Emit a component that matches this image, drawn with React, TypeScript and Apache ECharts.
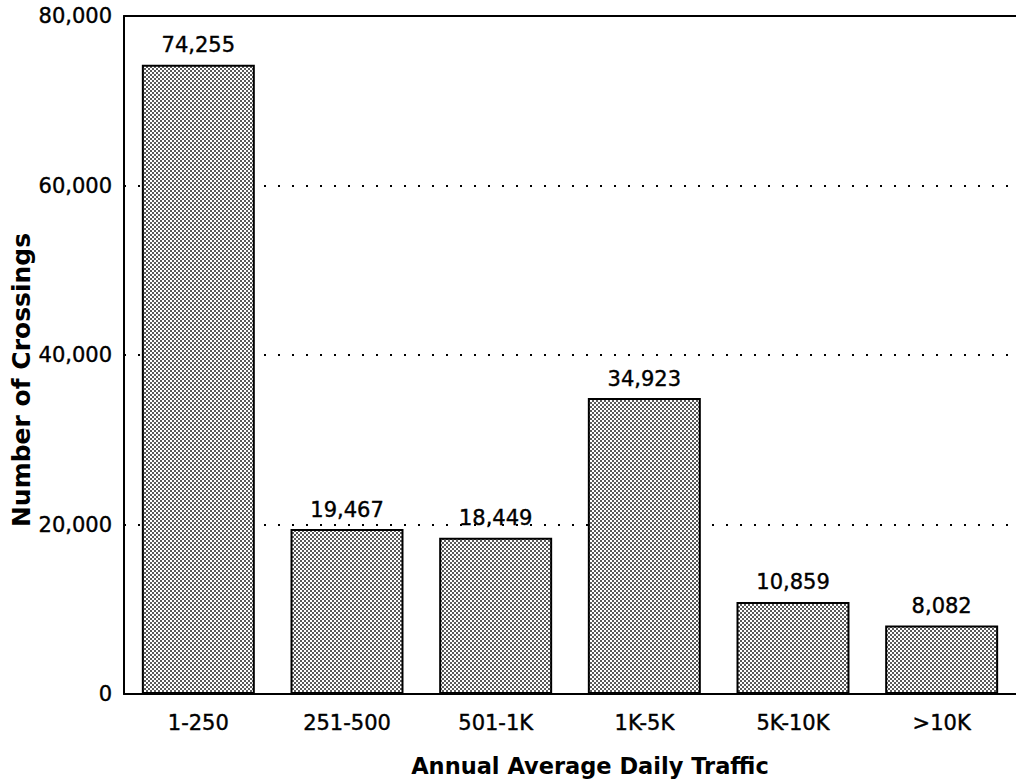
import React, { useEffect, useRef } from "react";
import * as echarts from "echarts";

const categories = ["1-250", "251-500", "501-1K", "1K-5K", "5K-10K", ">10K"];
const crossings = [74255, 19467, 18449, 34923, 10859, 8082];
const yTicks = [0, 20000, 40000, 60000, 80000];
const xAxisTitle = "Annual Average Daily Traffic";
const yAxisTitle = "Number of Crossings";

function makePattern(): string {
  const c = document.createElement("canvas");
  c.width = 4;
  c.height = 4;
  const ctx = c.getContext("2d")!;
  ctx.fillStyle = "#ffffff";
  ctx.fillRect(0, 0, 4, 4);
  ctx.fillStyle = "#5a5a5a";
  for (let x = 0; x < 4; x++) {
    for (let y = 0; y < 4; y++) {
      if (((x >> 1) + (y >> 1)) % 2 === 0) ctx.fillRect(x, y, 1, 1);
    }
  }
  return c.toDataURL();
}

export default function App() {
  const ref = useRef<HTMLDivElement>(null);
  useEffect(() => {
    if (!ref.current) return;
    const chart = echarts.init(ref.current, undefined, { renderer: "svg" });
    const font = "'DejaVu Sans', Verdana, sans-serif";
    const pattern = makePattern();
    const labelText = {
      color: "#000",
      fontSize: 21,
      fontFamily: font,
      textBorderColor: "#000",
      textBorderWidth: 0.4,
    };
    chart.setOption({
      animation: false,
      backgroundColor: "#ffffff",
      textStyle: { fontFamily: font, color: "#000" },
      grid: {
        left: 124,
        right: -4,
        top: 16,
        bottom: 89,
        containLabel: false,
      },
      xAxis: [
        {
          type: "category",
          data: categories,
          axisLine: { lineStyle: { color: "#000", width: 2 } },
          axisTick: { show: false },
          axisLabel: { ...labelText, margin: 18 },
        },
        {
          type: "category",
          position: "top",
          data: categories,
          axisLine: { show: true, lineStyle: { color: "#000", width: 2 } },
          axisTick: { show: false },
          axisLabel: { show: false },
        },
      ],
      yAxis: {
        type: "value",
        min: yTicks[0],
        max: yTicks[yTicks.length - 1],
        interval: 20000,
        axisLine: { show: true, lineStyle: { color: "#000", width: 2 } },
        axisTick: { show: false },
        axisLabel: {
          ...labelText,
          margin: 12,
          formatter: (v: number) => v.toLocaleString("en-US"),
        },
        splitLine: {
          show: true,
          lineStyle: { color: "#000", width: 2, type: [2, 12] },
        },
      },
      graphic: [
        {
          type: "text",
          x: 590,
          y: 766,
          style: {
            text: xAxisTitle,
            fontSize: 22.5,
            fontWeight: "bold",
            fontFamily: font,
            fill: "#000",
            align: "center",
            verticalAlign: "middle",
          },
        },
        {
          type: "text",
          x: 21,
          y: 380,
          rotation: Math.PI / 2,
          style: {
            text: yAxisTitle,
            fontSize: 25,
            fontWeight: "bold",
            fontFamily: font,
            fill: "#000",
            align: "center",
            verticalAlign: "middle",
          },
        },
      ],
      series: [
        {
          type: "bar",
          data: crossings,
          barCategoryGap: "24%",
          itemStyle: {
            color: { image: pattern, repeat: "repeat" },
            borderColor: "#000",
            borderWidth: 2,
          },
          label: {
            show: true,
            position: "top",
            distance: 9,
            ...labelText,
            formatter: (p: any) => Number(p.value).toLocaleString("en-US"),
          },
        },
      ],
    });
    return () => chart.dispose();
  }, []);
  return (
    <div
      ref={ref}
      style={{ position: "fixed", left: 0, top: 0, width: 1016, height: 783 }}
    />
  );
}
